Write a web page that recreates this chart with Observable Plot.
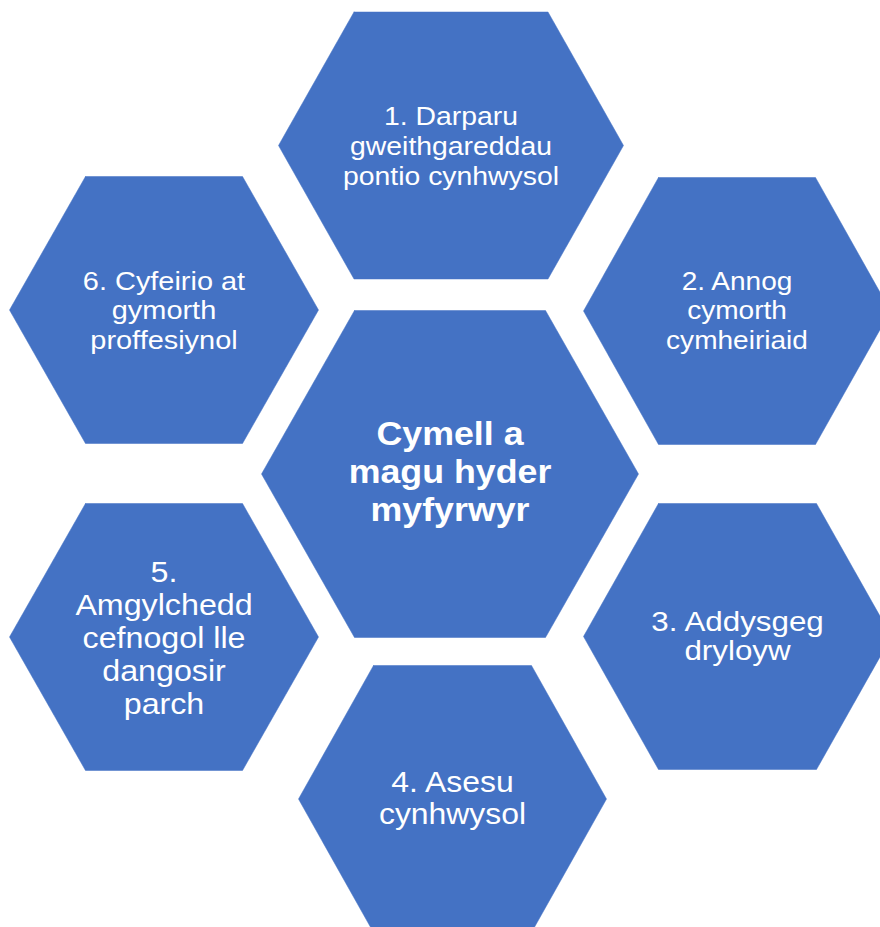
<!DOCTYPE html>
<html>
<head>
<meta charset="utf-8">
<script src="https://cdn.jsdelivr.net/npm/d3@7"></script>
<script src="https://cdn.jsdelivr.net/npm/@observablehq/plot@0.6"></script>
<style>
  html, body { margin: 0; padding: 0; background: #fff; overflow: hidden; }
  #chart svg { display: block; }
</style>
</head>
<body>
<div id="chart"></div>
<script>
// Diagram content
const ids = ["h1", "c", "h6", "h2", "h5", "h3", "h4"];
const labels = [
  "1. Darparu\ngweithgareddau\npontio cynhwysol",
  "Cymell a\nmagu hyder\nmyfyrwyr",
  "6. Cyfeirio at\ngymorth\nproffesiynol",
  "2. Annog\ncymorth\ncymheiriaid",
  "5.\nAmgylchedd\ncefnogol lle\ndangosir\nparch",
  "3. Addysgeg\ndryloyw",
  "4. Asesu\ncynhwysol"
];

// Layout (hexagon centres and half-extents)
const cx = [450.5, 449.5, 163.5, 736.5, 163.5, 737, 452];
const cy = [145, 473.5, 309.5, 310.5, 636.5, 636, 798.5];
const rx = [172.5, 188.5, 154.5, 153.5, 154.5, 154, 154];
const ry = [133.5, 163.5, 133.5, 133.5, 133.5, 133, 133.5];
const tx = [97, 95.5, 78.5, 78.5, 78.5, 79, 79];
const textDy = [-0.5, -3.5, 0, -1, 0, 0, -1.5];
const fontSizes = [25.8, 32.5, 26.3, 25.5, 29.3, 28.5, 29];
const linePx = [30, 38, 29.5, 29.5, 33, 29, 32];
const weights = ["normal", "bold", "normal", "normal", "normal", "normal", "normal"];
const stretchX = 1.1;

const W = 880, H = 927;
const fill = "#4472C4";

const verts = [];
ids.forEach((id, i) => {
  const pts = [
    [cx[i] - tx[i], cy[i] - ry[i]],
    [cx[i] + tx[i], cy[i] - ry[i]],
    [cx[i] + rx[i], cy[i]],
    [cx[i] + tx[i], cy[i] + ry[i]],
    [cx[i] - tx[i], cy[i] + ry[i]],
    [cx[i] - rx[i], cy[i]],
    [cx[i] - tx[i], cy[i] - ry[i]]
  ];
  pts.forEach(([x, y]) => verts.push({id, x, y}));
});

const textMarks = ids.map((id, i) => Plot.text([{x: cx[i], y: cy[i] + textDy[i], t: labels[i]}], {
  x: "x", y: "y", text: "t",
  fill: "white",
  fontSize: fontSizes[i],
  fontWeight: weights[i],
  lineHeight: linePx[i] / fontSizes[i],
  lineAnchor: "middle",
  textAnchor: "middle",
  fontFamily: "'Liberation Sans', Arial, sans-serif"
}));

const chart = Plot.plot({
  width: W,
  height: H,
  margin: 0,
  x: {domain: [0, W], range: [0, W], axis: null},
  y: {domain: [0, H], range: [0, H], axis: null},
  style: {background: "white", fontFamily: "'Liberation Sans', Arial, sans-serif"},
  marks: [
    Plot.line(verts, {x: "x", y: "y", z: "id", fill: fill, stroke: fill, strokeWidth: 0.5, curve: "linear"}),
    ...textMarks
  ]
});

// Reference text is rendered slightly wider than its height; stretch horizontally about each anchor
d3.select(chart).selectAll("g[aria-label='text'] text").each(function () {
  const t = this.getAttribute("transform") || "";
  this.setAttribute("transform", t + ` scale(${stretchX},1)`);
});

document.getElementById("chart").appendChild(chart);
</script>
</body>
</html>
